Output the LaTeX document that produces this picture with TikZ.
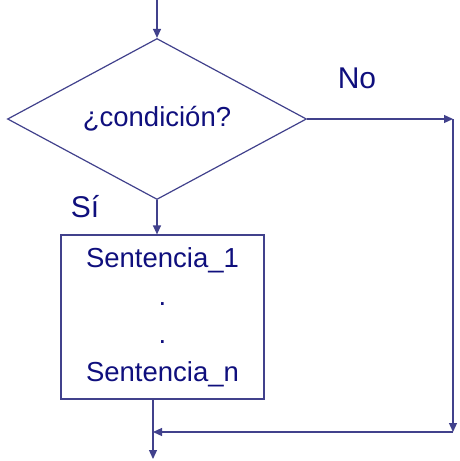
\documentclass[tikz,border=0pt]{standalone}
\usepackage{fontspec}
\setmainfont{Liberation Sans}
\usepackage{tikz}
\usetikzlibrary{arrows.meta,positioning,shapes.geometric}

\definecolor{navytext}{RGB}{15,15,125}
\definecolor{navyline}{RGB}{65,65,140}

\tikzset{
  flow/.style={draw=navyline,line width=1.2pt,-{Triangle[length=9pt,width=8pt]}},
  decision/.style={diamond,aspect=2,draw=navyline,line width=1.2pt,inner sep=0pt,
    minimum width=299pt,minimum height=161pt,text=navytext,
    font=\fontsize{27.5}{30}\selectfont},
  stmtbox/.style={rectangle,draw=navyline,line width=1.2pt,
    minimum width=203pt,minimum height=164pt,text=navytext,align=center,
    font=\fontsize{27.5}{38}\selectfont},
  answer/.style={text=navytext,font=\fontsize{30}{32}\selectfont}
}

\begin{document}
\begin{tikzpicture}[x=1pt,y=-1pt]
\useasboundingbox (0,0) rectangle (460,461);
\node[decision] (cond) at (157,119) {¿condición?};
\node[stmtbox] (stmt) at (162.5,317) {Sentencia\_1\\.\\.\\Sentencia\_n};
\node[answer] (si) at (85,207) {Sí};
\node[answer] (no) at (357,78) {No};
\coordinate (top) at (157,0);
\coordinate (ne) at (453,119);
\coordinate (se) at (453,432);
\coordinate (join) at (153,432);
\coordinate (end) at (153,459);
% flujo principal
\draw[flow] (top) -- (cond.north);
\draw[flow] (cond.south) -- (cond.south |- stmt.north);
\draw[flow] (join |- stmt.south) -- (end);
% rama del no
\draw[flow] (cond.east) -- (ne);
\draw[flow] (ne) -- (se);
\draw[flow] (se) -- (join);
\end{tikzpicture}
\end{document}
